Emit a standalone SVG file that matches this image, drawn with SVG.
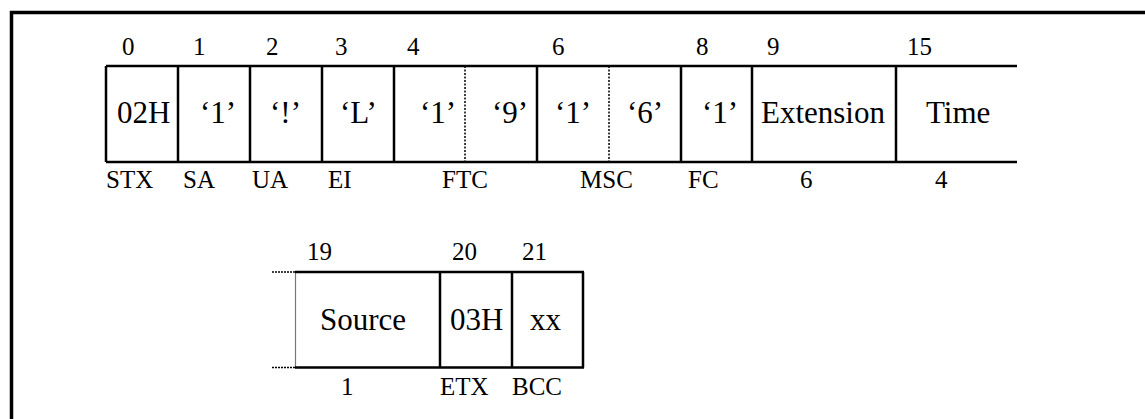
<svg xmlns="http://www.w3.org/2000/svg" width="1145" height="419" viewBox="0 0 1145 419">
<style>
.frame{fill:none;stroke:#000;stroke-width:3.5}
.box{fill:none;stroke:#000;stroke-width:2.5}
.dot{fill:none;stroke:#000;stroke-width:1.5;stroke-dasharray:2 1.5}
.thin{fill:none;stroke:#777;stroke-width:1.2}
.dotg{fill:none;stroke:#000;stroke-width:1.5;stroke-dasharray:2 1}
text{font-family:'Liberation Serif','Times New Roman',Times,serif;fill:#000}
.big{font-size:31px}
.sm{font-size:25px}
</style>
<rect width="1145" height="419" fill="#fff"/>
<path class="frame" d="M11.5 419 V12.5 H1145"/>

<g id="row1">
  <path class="box" d="M106 66 H1017 M106 162 H1017 M106 66 V162 M178 66 V162 M250 66 V162 M322 66 V162 M394 66 V162 M537 66 V162 M681 66 V162 M752 66 V162 M896 66 V162"/>
  <path class="dot" d="M465 66 V162 M609 66 V162"/>
</g>
<g id="cell-stx"><text class="sm" x="122" y="55">0</text><text class="big" x="117" y="123">02H</text><text class="sm" x="106" y="188">STX</text></g>
<g id="cell-sa"><text class="sm" x="193" y="55">1</text><text class="big" x="200" y="123">‘1’</text><text class="sm" x="183" y="188">SA</text></g>
<g id="cell-ua"><text class="sm" x="266" y="55">2</text><text class="big" x="270" y="123">‘!’</text><text class="sm" x="252" y="188">UA</text></g>
<g id="cell-ei"><text class="sm" x="335" y="55">3</text><text class="big" x="340" y="123">‘L’</text><text class="sm" x="328" y="188">EI</text></g>
<g id="cell-ftc"><text class="sm" x="407" y="55">4</text><text class="big" x="420" y="123">‘1’</text><text class="big" x="492" y="123">‘9’</text><text class="sm" x="442" y="188">FTC</text></g>
<g id="cell-msc"><text class="sm" x="552" y="55">6</text><text class="big" x="555" y="123">‘1’</text><text class="big" x="627" y="123">‘6’</text><text class="sm" x="580" y="188">MSC</text></g>
<g id="cell-fc"><text class="sm" x="696" y="55">8</text><text class="big" x="702" y="123">‘1’</text><text class="sm" x="688" y="188">FC</text></g>
<g id="cell-ext"><text class="sm" x="767" y="55">9</text><text class="big" x="761" y="123">Extension</text><text class="sm" x="800" y="188">6</text></g>
<g id="cell-time"><text class="sm" x="907" y="55">15</text><text class="big" x="926" y="123">Time</text><text class="sm" x="935" y="188">4</text></g>

<g id="row2">
  <path class="dotg" d="M272 272 H295 M272 367.5 H295"/>
  <path class="thin" d="M295.5 272 V367.5"/>
  <path class="box" d="M295 272 H584 M295 367.5 H584 M440 272 V367.5 M512 272 V367.5 M583 272 V367.5"/>
</g>
<g id="cell-source"><text class="sm" x="307" y="260">19</text><text class="big" x="320" y="330">Source</text><text class="sm" x="341" y="395">1</text></g>
<g id="cell-etx"><text class="sm" x="452" y="260">20</text><text class="big" x="450" y="330">03H</text><text class="sm" x="440" y="395">ETX</text></g>
<g id="cell-bcc"><text class="sm" x="522" y="260">21</text><text class="big" x="530" y="330">xx</text><text class="sm" x="512" y="395">BCC</text></g>
</svg>
